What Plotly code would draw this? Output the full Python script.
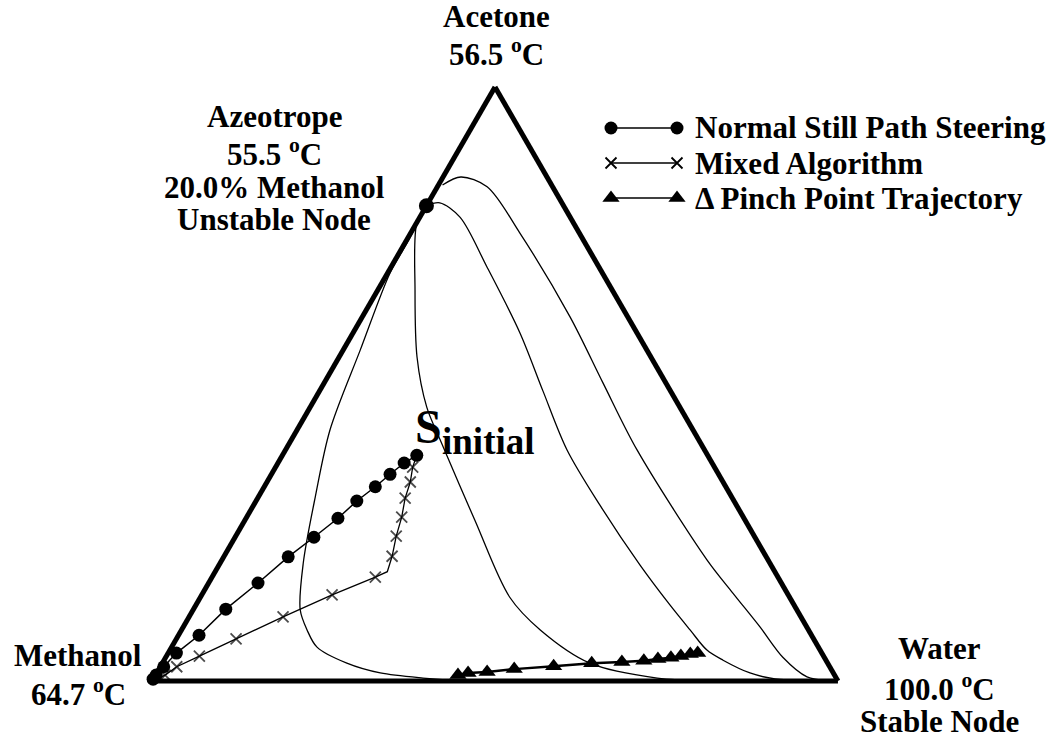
import plotly.graph_objects as go

# ---- compositions (mole fractions): acetone (top), methanol (left), water (right)
azeo_acetone = [0.80]
azeo_methanol = [0.20]
azeo_water = [0.00]

# Normal still path steering
still_acetone = [0.380, 0.367, 0.348, 0.327, 0.303, 0.274, 0.242, 0.209, 0.165, 0.121, 0.077, 0.047, 0.024, 0.010, 0.003]
still_methanol = [0.424, 0.449, 0.479, 0.511, 0.550, 0.592, 0.643, 0.697, 0.763, 0.832, 0.893, 0.941, 0.971, 0.989, 0.997]
still_water = [0.196, 0.184, 0.173, 0.162, 0.147, 0.134, 0.115, 0.094, 0.072, 0.047, 0.030, 0.012, 0.005, 0.001, 0.000]

# Mixed algorithm (first point = S initial, 8th point = switch of direction, unmarked)
mixed_acetone = [0.380, 0.360, 0.335, 0.308, 0.276, 0.244, 0.210, 0.184, 0.175, 0.145, 0.108, 0.071, 0.042, 0.024, 0.010, 0.000]
mixed_methanol = [0.424, 0.440, 0.456, 0.477, 0.498, 0.522, 0.545, 0.565, 0.587, 0.665, 0.755, 0.842, 0.910, 0.952, 0.976, 1.000]
mixed_water = [0.196, 0.200, 0.209, 0.215, 0.226, 0.234, 0.245, 0.251, 0.238, 0.190, 0.137, 0.087, 0.048, 0.024, 0.014, 0.000]
mixed_marked = [0, 1, 1, 1, 1, 1, 1, 0, 1, 1, 1, 1, 1, 1, 1, 0]

# Delta pinch point trajectory
pinch_acetone = [0.010, 0.0135, 0.015, 0.020, 0.025, 0.030, 0.032, 0.034, 0.037, 0.039, 0.042, 0.0455, 0.047]
pinch_methanol = [0.549, 0.5325, 0.504, 0.462, 0.402, 0.344, 0.299, 0.266, 0.244, 0.224, 0.208, 0.1925, 0.181]
pinch_water = [0.441, 0.454, 0.481, 0.518, 0.573, 0.626, 0.669, 0.700, 0.719, 0.737, 0.750, 0.762, 0.772]

# Residue curves (unstable node azeotrope -> stable node water)
rc1_acetone = [0.800, 0.742, 0.687, 0.557, 0.423, 0.310, 0.199, 0.120, 0.086, 0.057, 0.030, 0.0135, 0.005, 0.001, 0.0]
rc1_methanol = [0.200, 0.255, 0.3095, 0.418, 0.529, 0.607, 0.680, 0.724, 0.731, 0.731, 0.701, 0.6605, 0.6025, 0.550, 0.0]
rc1_water = [0.000, 0.003, 0.0035, 0.025, 0.048, 0.083, 0.121, 0.156, 0.183, 0.212, 0.269, 0.326, 0.3925, 0.449, 1.0]

rc2_acetone = [0.800, 0.771, 0.658, 0.5455, 0.461, 0.406, 0.271, 0.141, 0.086, 0.030, 0.005, 0.0, 0.0]
rc2_methanol = [0.200, 0.2285, 0.2876, 0.341, 0.369, 0.377, 0.394, 0.408, 0.391, 0.3465, 0.261, 0.172, 0.0]
rc2_water = [0.000, 0.0005, 0.0544, 0.1136, 0.170, 0.217, 0.335, 0.451, 0.523, 0.6235, 0.734, 0.828, 1.0]

rc3_acetone = [0.800, 0.805, 0.781, 0.697, 0.586, 0.488, 0.389, 0.296, 0.195, 0.128, 0.086, 0.052, 0.035, 0.0135, 0.0034, 0.0, 0.0]
rc3_methanol = [0.200, 0.178, 0.1606, 0.1632, 0.1706, 0.186, 0.2005, 0.199, 0.191, 0.181, 0.1726, 0.165, 0.150, 0.1215, 0.0901, 0.041, 0.0]
rc3_water = [0.000, 0.017, 0.0584, 0.1398, 0.2434, 0.326, 0.4106, 0.505, 0.614, 0.691, 0.7414, 0.783, 0.815, 0.865, 0.9065, 0.959, 1.0]

rc4_acetone = [0.835, 0.8485, 0.832, 0.754, 0.613, 0.502, 0.389, 0.204, 0.148, 0.091, 0.040, 0.007, 0.0, 0.0]
rc4_methanol = [0.159, 0.1255, 0.0955, 0.0867, 0.0841, 0.0917, 0.0984, 0.089, 0.0792, 0.0682, 0.0604, 0.0416, 0.012, 0.0]
rc4_water = [0.006, 0.026, 0.0725, 0.1593, 0.3029, 0.4066, 0.5126, 0.707, 0.7728, 0.8408, 0.8996, 0.9514, 0.988, 1.0]

residue_curves = [
    (rc1_acetone, rc1_methanol, rc1_water),
    (rc2_acetone, rc2_methanol, rc2_water),
    (rc3_acetone, rc3_methanol, rc3_water),
    (rc4_acetone, rc4_methanol, rc4_water),
]

legend_names = ["Normal Still Path Steering", "Mixed Algorithm", "\u0394 Pinch Point Trajectory"]

# ---- page geometry
W, H = 1060, 739
ML, MR, MT, MB = 152, 222, 87, 58
PW, PH = W - ML - MR, H - MT - MB

SERIF = "Liberation Serif"
BLACK = "black"

fig = go.Figure()

for a, b, c in residue_curves:
    fig.add_trace(go.Scatterternary(
        a=a, b=b, c=c, mode="lines",
        line=dict(color=BLACK, width=1.3, shape="spline", smoothing=0.9),
        cliponaxis=False, hoverinfo="skip", showlegend=False))

still_style = dict(line=dict(color=BLACK, width=1.5),
                   marker=dict(symbol="circle", size=13, color=BLACK))
mixed_line = dict(color=BLACK, width=1.3)
mixed_marker = dict(symbol="x-thin", size=11, color=BLACK, line=dict(color=BLACK, width=1.8))
pinch_marker = dict(symbol="triangle-up", size=15, color=BLACK)

fig.add_trace(go.Scatterternary(
    a=still_acetone, b=still_methanol, c=still_water, mode="lines+markers",
    cliponaxis=False, showlegend=False, name=legend_names[0], **still_style))

fig.add_trace(go.Scatterternary(
    a=mixed_acetone, b=mixed_methanol, c=mixed_water, mode="lines+markers",
    line=mixed_line,
    marker=dict(mixed_marker, size=[mixed_marker["size"] * m for m in mixed_marked]),
    cliponaxis=False, showlegend=False, name=legend_names[1]))

fig.add_trace(go.Scatterternary(
    a=pinch_acetone, b=pinch_methanol, c=pinch_water, mode="lines+markers",
    line=dict(color=BLACK, width=2.5), marker=pinch_marker,
    cliponaxis=False, showlegend=False, name=legend_names[2]))

fig.add_trace(go.Scatterternary(
    a=azeo_acetone, b=azeo_methanol, c=azeo_water, mode="markers",
    marker=dict(symbol="circle", size=15, color=BLACK),
    cliponaxis=False, showlegend=False, name="Azeotrope"))

# ---- legend samples (marker - line - marker), drawn on a hidden pixel-scaled axis
leg_x = [611, 677]
leg_y = [128, 163, 198]
leg_styles = [
    still_style,
    dict(line=mixed_line, marker=mixed_marker),
    dict(line=dict(color=BLACK, width=1.5), marker=pinch_marker),
]
for yy, st in zip(leg_y, leg_styles):
    fig.add_trace(go.Scatter(x=leg_x, y=[yy, yy], mode="lines+markers", cliponaxis=False,
                             hoverinfo="skip", showlegend=False, **st))


def paper(x, y):
    return (x - ML) / PW, (MT + PH - y) / PH


def label(text, x, y, size=31, xanchor="center"):
    px, py = paper(x, y)
    fig.add_annotation(x=px, y=py, xref="paper", yref="paper", text=text, showarrow=False,
                       xanchor=xanchor, yanchor="middle",
                       font=dict(family=SERIF, size=size, color=BLACK, weight="bold"))


DEG = "<sup>o</sup>C"
for t, y in zip(["Acetone", "56.5 " + DEG], [17, 52]):
    label(t, 496, y)
for t, y in zip(["Azeotrope", "55.5 " + DEG, "20.0% Methanol", "Unstable Node"], [116, 152, 187, 219]):
    label(t, 274, y)
for t, y in zip(["Methanol", "64.7 " + DEG], [655, 692]):
    label(t, 78, y)
for t, y in zip(["Water", "100.0 " + DEG, "Stable Node"], [648, 688, 721]):
    label(t, 939, y)
for t, y in zip(legend_names, leg_y):
    label(t, 693, y, xanchor="left")

label("S", 413, 426, size=48, xanchor="left")
label("initial", 440, 441, size=37, xanchor="left")

axis_style = dict(showline=True, linewidth=5, linecolor=BLACK, showgrid=False,
                  showticklabels=False, ticks="", title=dict(text=""), layer="below traces", min=0)

fig.update_layout(
    width=W, height=H,
    margin=dict(l=ML, r=MR, t=MT, b=MB, pad=0),
    paper_bgcolor="white", plot_bgcolor="rgba(0,0,0,0)",
    showlegend=False,
    ternary=dict(sum=1, bgcolor="white", domain=dict(x=[0, 1], y=[0, 1]),
                 aaxis=axis_style, baxis=axis_style, caxis=axis_style),
    xaxis=dict(range=[ML, ML + PW], visible=False, fixedrange=True),
    yaxis=dict(range=[MT + PH, MT], visible=False, fixedrange=True),
)

fig.write_html("out.html")
